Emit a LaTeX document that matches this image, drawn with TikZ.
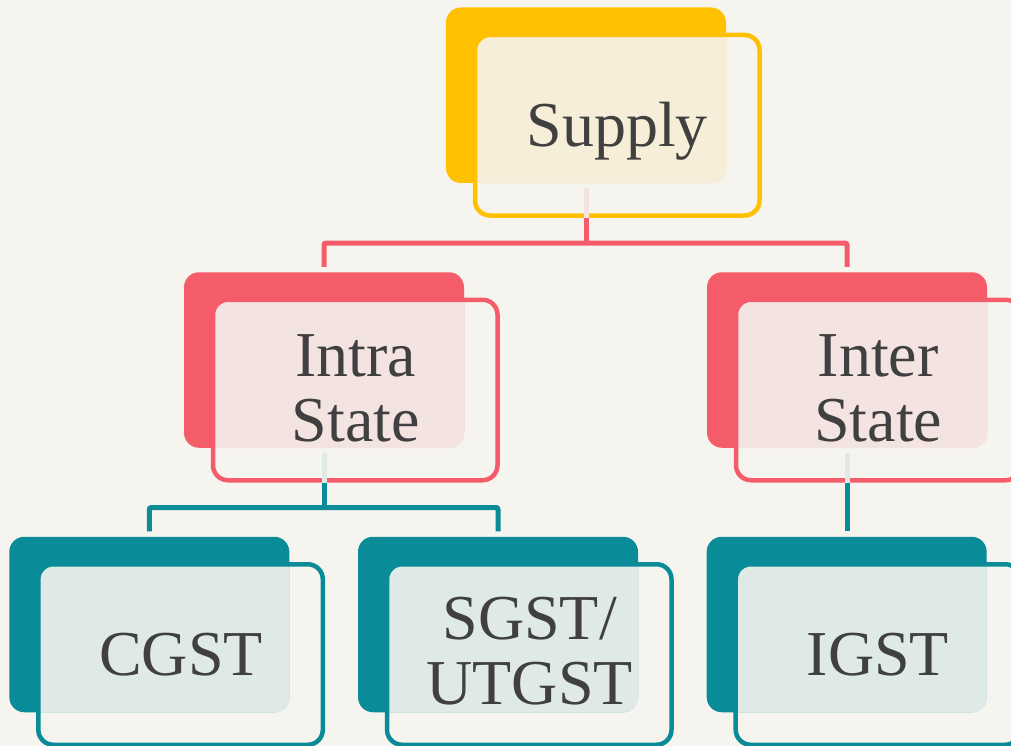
\documentclass[tikz,border=0pt]{standalone}
\usepackage{fontspec}
\setmainfont{Liberation Serif}
\usetikzlibrary{calc}
\definecolor{bg}{HTML}{F6F4EF}
\definecolor{ydark}{HTML}{FFC000}
\definecolor{ylight}{HTML}{F6EED8}
\definecolor{rdark}{HTML}{F55C6A}
\definecolor{rlight}{HTML}{F4E4E1}
\definecolor{tdark}{HTML}{0A8C98}
\definecolor{tlight}{HTML}{DFEAE6}
\definecolor{txtcol}{HTML}{404040}
\tikzset{
  backbox/.style={rectangle, rounded corners=15pt, minimum width=280pt, minimum height=175.5pt, inner sep=0pt, outer sep=0pt, fill=#1},
  frontbox/.style={rectangle, rounded corners=15pt, minimum width=284.5pt, minimum height=180.5pt, inner sep=0pt, outer sep=0pt, draw=#1, line width=4.5pt},
  conn/.style={draw=#1, line width=5pt, rounded corners=2pt},
  pale/.style={draw=#1, line width=5pt},
  txt/.style={text=txtcol, font=\fontsize{64}{65}\selectfont, inner sep=0pt, align=center},
}
\newcommand\gblock[5]{%
  \node[backbox=#4] (#1B) at (#2,#3) {};
  \begin{scope}
    \clip[rounded corners=15pt] ($(#2,#3)+(-111,-60.25)$) rectangle ++(284.5,180.5);
    \filldraw[fill=#5, draw=#5, line width=0.8pt, rounded corners=15pt] (#1B.north west) rectangle (#1B.south east);
  \end{scope}
  \node[frontbox=#4] (#1F) at ($(#2,#3)+(31.25,30)$) {};
}
\begin{document}
\begin{tikzpicture}[x=1pt, y=-1pt]
\fill[bg] (0,0) rectangle (1011,746);
\useasboundingbox (0,0) rectangle (1011,746);

\gblock{sup}{586}{95.25}{ydark}{ylight}
\gblock{intra}{324}{360}{rdark}{rlight}
\gblock{inter}{847}{360}{rdark}{rlight}
\gblock{cgst}{149.3}{624.5}{tdark}{tlight}
\gblock{sgst}{498}{624.5}{tdark}{tlight}
\gblock{igst}{846.7}{624.5}{tdark}{tlight}

% connectors
\coordinate (h1) at (0,243);
\coordinate (h2) at (0,507.5);
\coordinate (s1) at ($(supB.south |- supF.south)+(0,2.25)$);
\draw[pale=rlight] ($(supB.south)+(0,5.5)$) -- (s1);
\draw[conn=rdark] (s1) -- (supB.south |- h1);
\draw[conn=rdark] ($(intraB.north)+(0,-5.5)$) |- (interB.north |- h1) -- ($(interB.north)+(0,-5.5)$);

\coordinate (s2) at ($(intraB.south |- intraF.south)+(0,2.25)$);
\draw[pale=tlight] ($(intraB.south)+(0,5.5)$) -- (s2);
\draw[conn=tdark] (s2) -- (intraB.south |- h2);
\draw[conn=tdark] ($(cgstB.north)+(0,-5.5)$) |- (sgstB.north |- h2) -- ($(sgstB.north)+(0,-5.5)$);

\coordinate (s3) at ($(interB.south |- interF.south)+(0,2.25)$);
\draw[pale=tlight] ($(interB.south)+(0,5.5)$) -- (s3);
\draw[conn=tdark] (s3) -- ($(interB.south |- igstB.north)+(0,-5.5)$);

% texts
\node[txt, anchor=base] (tsup) at ($(supF.center)+(0,21)$) {Supply};
\node[txt] (tintra) at ($(intraF.center)+(0.5,-1.5)$) {Intra\\State};
\node[txt] (tinter) at ($(interF.center)+(0,-1.5)$) {Inter\\State};
\node[txt, anchor=base] (tcgst) at ($(cgstF.center)+(0.5,21)$) {CGST};
\node[txt] (tsgst) at ($(sgstF.center)+(0.5,-3)$) {SGST/\\UTGST};
\node[txt, anchor=base] (tigst) at ($(igstF.center)+(0,21)$) {IGST};
\end{tikzpicture}
\end{document}
